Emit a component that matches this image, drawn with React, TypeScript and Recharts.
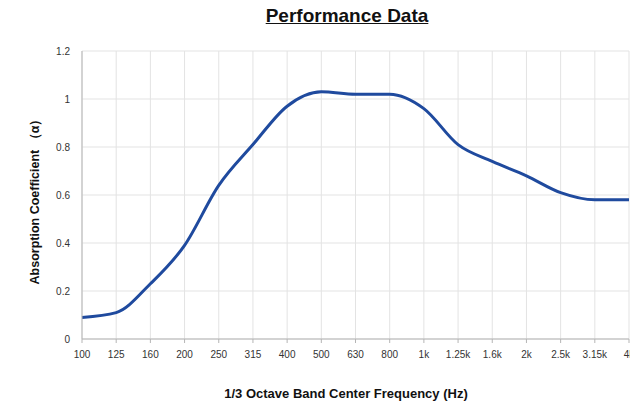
import React from 'react'
import { LineChart, Line, XAxis, YAxis, CartesianGrid } from 'recharts'

const frequencies = [
  '100', '125', '160', '200', '250', '315', '400', '500', '630',
  '800', '1k', '1.25k', '1.6k', '2k', '2.5k', '3.15k', '4k',
]
const absorption = [
  0.09, 0.11, 0.23, 0.39, 0.64, 0.81, 0.97, 1.03, 1.02,
  1.02, 0.96, 0.81, 0.74, 0.68, 0.61, 0.58, 0.58,
]
const yTicks = [0, 0.2, 0.4, 0.6, 0.8, 1, 1.2]

const font = '"Liberation Sans", Arial, sans-serif'

export default function App() {
  const data = frequencies.map((f, i) => ({ freq: f, alpha: absorption[i] }))

  return (
    <div
      style={{
        position: 'absolute',
        left: 0,
        top: 0,
        width: 630,
        height: 406,
        overflow: 'hidden',
        background: '#fff',
        fontFamily: font,
      }}
    >
      <div
        style={{
          position: 'absolute',
          top: 5,
          left: 197,
          width: 300,
          textAlign: 'center',
          fontSize: 19,
          fontWeight: 'bold',
          textDecoration: 'underline',
          color: '#111',
        }}
      >
        Performance Data
      </div>

      <LineChart
        width={660}
        height={406}
        data={data}
        margin={{ top: 51, right: 31, bottom: 37, left: 0 }}
      >
        <CartesianGrid stroke="#e3e3e3" strokeWidth={1} />
        <XAxis
          dataKey="freq"
          height={30}
          interval={0}
          tickSize={4}
          tickMargin={8}
          stroke="#b5b5b5"
          tick={{ fill: '#333', fontSize: 10, fontFamily: font }}
        />
        <YAxis
          width={82}
          domain={[0, 1.2]}
          ticks={yTicks}
          tickLine={false}
          tickSize={6}
          tickMargin={6}
          stroke="#b5b5b5"
          tick={{ fill: '#333', fontSize: 10, fontFamily: font }}
        />
        <Line
          type="monotone"
          dataKey="alpha"
          stroke="#1f4a9e"
          strokeWidth={3}
          dot={false}
          isAnimationActive={false}
        />
      </LineChart>

      <div
        style={{
          position: 'absolute',
          top: 386,
          left: 146,
          width: 400,
          textAlign: 'center',
          fontSize: 13,
          fontWeight: 'bold',
          color: '#111',
        }}
      >
        1/3 Octave Band Center Frequency (Hz)
      </div>

      <div
        style={{
          position: 'absolute',
          left: 35,
          top: 198,
          width: 240,
          marginLeft: -120,
          marginTop: -8,
          textAlign: 'center',
          fontSize: 12.5,
          fontWeight: 'bold',
          color: '#111',
          transform: 'rotate(-90deg)',
          whiteSpace: 'nowrap',
        }}
      >
        Absorption Coefficient （α）
      </div>
    </div>
  )
}
